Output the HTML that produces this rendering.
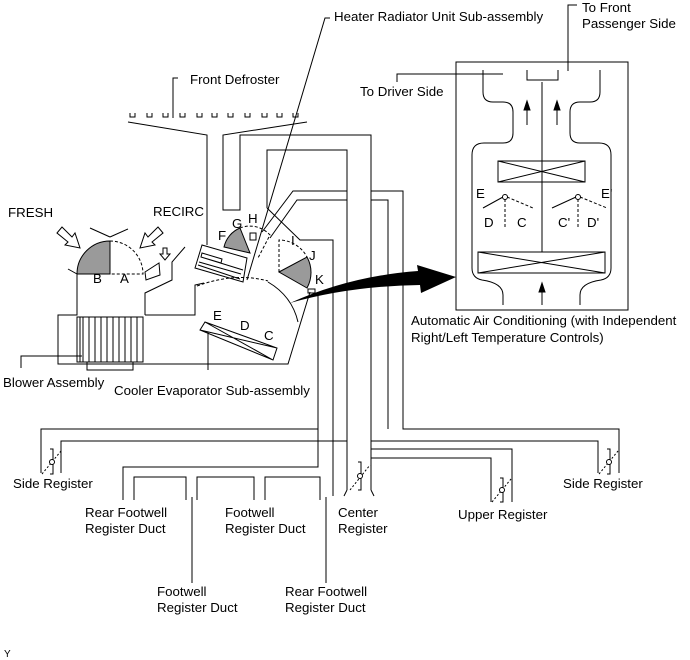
<!DOCTYPE html>
<html><head><meta charset="utf-8"><style>
html,body{margin:0;padding:0;background:#fff;}
svg{display:block;}
text{font-family:"Liberation Sans",Arial,sans-serif;font-size:13.3px;fill:#000;}
</style></head><body>
<svg width="690" height="660" viewBox="0 0 690 660" xmlns="http://www.w3.org/2000/svg">
<g fill="none" stroke="#000" stroke-width="1">
<path d="M130,113v4h5v-4 M147,113v4h5v-4 M163,113v4h5v-4 M180,113v4h5v-4 M197,113v4h5v-4 M212,113v4h5v-4 M228,113v4h5v-4 M245,113v4h5v-4 M262,113v4h5v-4 M277,113v4h5v-4 M293,113v4h5v-4"/>
<path d="M173,118V78h5"/>
<path d="M128,122L207,135V245"/>
<path d="M307,122L223,135V210H240V135H371V490"/>
<path d="M267,208V150H347V490"/>
<path d="M267,208L300,240H333V496"/>
<path d="M262,232L293,191H347 M371,191H403V429H619V473"/>
<path d="M270,238L297,200H347 M371,200H388V429"/>
<path d="M318,292V467H123V500"/>
<path d="M41,473V429H318"/>
<path d="M61,473V441H347"/>
<path d="M371,441H598V473"/>
<path d="M371,449H512V502"/>
<path d="M371,458H491V502"/>
<path d="M347,490l-3,6 M371,490l3,6"/>
<path d="M134,500V477H186V500 M197,500V477H254V500 M265,500V477H320V500"/>
<path d="M192,497V583 M326,497V583"/>
<path d="M247,280L325,18h5"/>
<path d="M68,269L77,274V315H58V364H288L310,292"/>
<path d="M87,362V370H133V362"/>
<rect x="77" y="317" width="66" height="45"/>
<path d="M80,317V362 M83,317V362 M89,317V362 M95,317V362 M101,317V362 M107,317V362 M113,317V362 M119,317V362 M125,317V362 M131,317V362 M137,317V362"/>
<path d="M82,356H21V368"/>
<path d="M145,315V293L172,280V262L185,247"/>
<path d="M145,315H195V285L204,283"/>
<path d="M145,272L159,263L160,275L146,280Z"/>
<path d="M110,237L90,228 M110,237L128,229"/>
<path d="M202,245L247,258L243,282L195,268Z"/>
<path d="M202,253L222,259L221,263L201,257Z M199,262L241,274 M201,257L243,270 M198,265L240,279"/>
<rect x="250" y="233" width="6" height="7"/>
<path d="M200,330L205,322L277,348L273,360Z M205,322L273,360 M200,330L277,348"/>
<path d="M208,332V370"/>
<path d="M268,282Q292,296 298,322"/>
<rect x="308" y="289" width="7" height="4"/>
<rect x="456" y="62" width="172" height="248"/>
<path d="M483,70V92Q483,102 493,102H503Q513,102 513,112V133Q513,143 503,143H484Q472,143 472,155V268Q472,278 482,280Q503,283 503,295V305"/>
<path d="M600,70V92Q600,102 590,102H580Q570,102 570,112V133Q570,143 580,143H599Q611,143 611,155V268Q611,278 601,280Q580,283 580,295V305"/>
<path d="M542,82V252 M527,70V80H558V70"/>
<rect x="498" y="161" width="87" height="21"/>
<path d="M498,161L585,182 M498,182L585,161"/>
<rect x="478" y="252" width="127" height="21"/>
<path d="M478,252L605,273 M478,273L605,252"/>
<path d="M483,208L503,197 M552,208L576,197"/>
<path d="M503,74H397V82 M568,71V5h9"/>
</g>
<g fill="none" stroke="#000" stroke-width="1" stroke-dasharray="3,2">
<path d="M110,241A33,33 0 0 1 143,274H110"/>
<path d="M240,228A27,27 0 0 1 270,235L258,258"/>
<path d="M279,272V240A32,32 0 0 1 307,257"/>
<path d="M197,286Q235,272 268,281"/>
<path d="M507,197L533,208 M505,199V228 M580,197L607,208 M578,199V228"/>
</g>
<g fill="#9a9a9a" stroke="#000" stroke-width="1">
<path d="M110,274L77,274A33,33 0 0 1 110,241Z"/>
<path d="M250,253L224,247A27,27 0 0 1 240,228Z"/>
<path d="M279,272L307,257A32,32 0 0 1 307,288Z"/>
</g>
<g fill="#fff" stroke="#000">
<circle cx="505" cy="197" r="2.5"/><circle cx="578" cy="197" r="2.5"/>
</g>
<g fill="#fff" stroke="#000" stroke-width="1">
<path d="M57,233L62,227L72,237L75,233L80,248L65,245L68,242Z"/>
<path d="M163,233L158,227L148,237L145,233L140,248L155,245L152,242Z"/>
<path d="M163,248h4v6h3l-5,6l-5,-6h3Z"/>
</g>
<g fill="#000" stroke="#000">
<path d="M527,125V108" /><path d="M524,110L527,101L530,110Z"/>
<path d="M557,125V108" /><path d="M554,110L557,101L560,110Z"/>
<path d="M542,305V290"/><path d="M539,292L542,283L545,292Z"/>
</g>
<path d="M290,303Q350,276 418,271L417,265L456,277L421,293L420,285Q350,286 290,303Z" fill="#000"/>
<g fill="none" stroke="#000" stroke-width="1">
<path d="M50,449H53V474H50"/><path d="M42,474L61,451" stroke-dasharray="2,2"/><circle cx="52" cy="462" r="2.5" fill="#fff"/>
<path d="M607,449H610V474H607"/><path d="M599,474L618,451" stroke-dasharray="2,2"/><circle cx="609" cy="462" r="2.5" fill="#fff"/>
<path d="M358,462H361V490H358"/><path d="M350,490L370,465" stroke-dasharray="2,2"/><circle cx="360" cy="476" r="2.5" fill="#fff"/>
<path d="M500,478H503V502H500"/><path d="M492,502L511,479" stroke-dasharray="2,2"/><circle cx="502" cy="490" r="2.5" fill="#fff"/>
</g>
<text x="190" y="84">Front Defroster</text>
<text x="334" y="21">Heater Radiator Unit Sub-assembly</text>
<text x="582" y="12">To Front</text>
<text x="582" y="28">Passenger Side</text>
<text x="360" y="96">To Driver Side</text>
<text x="8" y="217">FRESH</text>
<text x="153" y="216">RECIRC</text>
<text x="93" y="283">B</text>
<text x="120" y="283">A</text>
<text x="218" y="240">F</text>
<text x="232" y="228">G</text>
<text x="248" y="223">H</text>
<text x="291" y="245">I</text>
<text x="309" y="260">J</text>
<text x="315" y="284">K</text>
<text x="213" y="320">E</text>
<text x="240" y="330">D</text>
<text x="264" y="340">C</text>
<text x="476" y="198">E</text>
<text x="601" y="198">E'</text>
<text x="484" y="227">D</text>
<text x="517" y="227">C</text>
<text x="558" y="227">C'</text>
<text x="587" y="227">D'</text>
<text x="411" y="325">Automatic Air Conditioning (with Independent</text>
<text x="411" y="342">Right/Left Temperature Controls)</text>
<text x="3" y="387">Blower Assembly</text>
<text x="114" y="395">Cooler Evaporator Sub-assembly</text>
<text x="13" y="488">Side Register</text>
<text x="563" y="488">Side Register</text>
<text x="85" y="517">Rear Footwell</text>
<text x="85" y="533">Register Duct</text>
<text x="225" y="517">Footwell</text>
<text x="225" y="533">Register Duct</text>
<text x="338" y="517">Center</text>
<text x="338" y="533">Register</text>
<text x="458" y="519">Upper Register</text>
<text x="157" y="596">Footwell</text>
<text x="157" y="612">Register Duct</text>
<text x="285" y="596">Rear Footwell</text>
<text x="285" y="612">Register Duct</text>
<text x="4" y="657" style="font-size:10px">Y</text>
</svg>
</body></html>
